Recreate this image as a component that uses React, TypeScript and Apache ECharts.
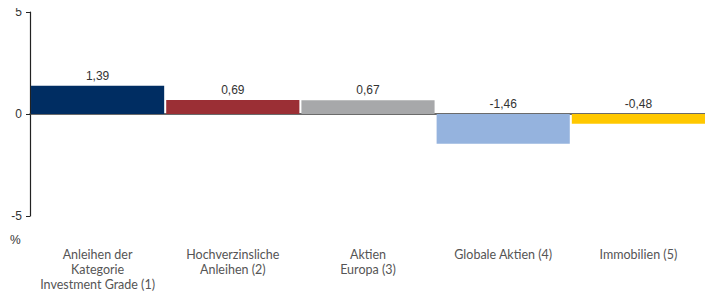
import React, { useEffect, useRef } from "react";
import * as echarts from "echarts";

const categories = [
  "Anleihen der\nKategorie\nInvestment Grade (1)",
  "Hochverzinsliche\nAnleihen (2)",
  "Aktien\nEuropa (3)",
  "Globale Aktien (4)",
  "Immobilien (5)",
];
const values = [1.39, 0.69, 0.67, -1.46, -0.48];
const colors = ["#002D62", "#9B2F35", "#A7A8AA", "#95B3DE", "#FFC800"];
const yTicks = { min: -5, max: 5, interval: 5 };

export default function App() {
  const ref = useRef<HTMLDivElement>(null);
  useEffect(() => {
    if (!ref.current) return;
    const chart = echarts.init(ref.current, null, { renderer: "svg" });
    chart.setOption({
      animation: false,
      grid: { left: 30, right: 7, top: 12, bottom: 75, containLabel: false },
      xAxis: [
        {
          type: "category",
          data: categories,
          position: "bottom",
          axisLine: { show: false, onZero: false },
          axisTick: { show: false },
          axisLabel: {
            interval: 0,
            margin: 31,
            color: "#555",
            fontFamily: "Lato",
            fontSize: 12.5,
            lineHeight: 15,
          },
        },
        {
          type: "category",
          data: categories,
          position: "bottom",
          axisLine: { show: true, onZero: true, lineStyle: { color: "#3a3a3a", width: 1.5 } },
          axisTick: { show: false },
          axisLabel: { show: false },
        },
      ],
      yAxis: {
        type: "value",
        min: yTicks.min,
        max: yTicks.max,
        interval: yTicks.interval,
        axisLine: { show: true, lineStyle: { color: "#222", width: 1.2 } },
        axisTick: { show: true, length: 4, lineStyle: { color: "#222" } },
        splitLine: { show: false },
        axisLabel: {
          margin: 8,
          color: "#333",
          fontFamily: "Liberation Sans",
          fontSize: 12,
        },
      },
      graphic: [
        {
          type: "text",
          left: 10,
          top: 234,
          style: { text: "%", fill: "#333", font: "12px 'Liberation Sans'" },
        },
      ],
      series: [
        {
          type: "bar",
          xAxisIndex: 0,
          barCategoryGap: "1.5%",
          data: values.map((v, i) => ({ value: v, itemStyle: { color: colors[i] } })),
          label: {
            show: true,
            position: "top",
            distance: 4,
            color: "#333",
            fontFamily: "Liberation Sans",
            fontSize: 12,
            formatter: (p: any) => p.value.toFixed(2).replace(".", ","),
          },
        },
      ],
    });
    return () => chart.dispose();
  }, []);
  return <div ref={ref} style={{ width: 713, height: 292, marginTop: -8, marginLeft: -8 }} />;
}
